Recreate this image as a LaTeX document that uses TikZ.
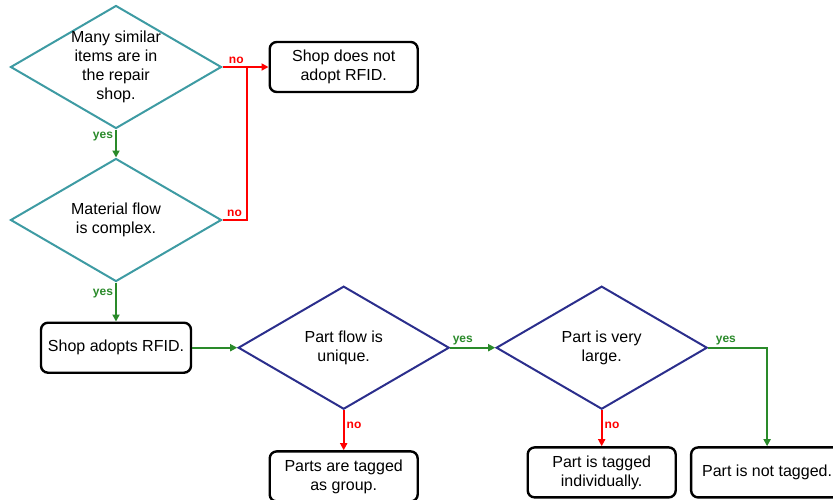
\documentclass[tikz,border=0pt]{standalone}
\usepackage{fontspec}
\setmainfont{Liberation Sans}
\usepackage{tikz}
\usetikzlibrary{arrows.meta,positioning,shapes.geometric}
\usepackage{xcolor}
\definecolor{tealq}{HTML}{3E9BA3}
\definecolor{navyq}{HTML}{2B2E8C}
\definecolor{yesgreen}{HTML}{2A8A2A}

\begin{document}
\begin{tikzpicture}[
    x=1pt, y=1pt,
    box/.style={draw, line width=2.4pt, rounded corners=7pt, minimum width=148pt, minimum height=50pt, align=center, font=\fontsize{16}{19}\selectfont},
    decision/.style={diamond, draw, line width=2pt, minimum width=211pt, minimum height=123pt, inner sep=0pt},
    txt/.style={align=center, font=\fontsize{16}{19}\selectfont},
    lbl/.style={font=\fontsize{12}{14}\selectfont\bfseries, inner sep=2pt},
    yesarrow/.style={-{Triangle[length=7pt,width=7pt]}, line width=2pt, yesgreen},
    noarrow/.style={-{Triangle[length=7pt,width=7pt]}, line width=2pt, red}
]
\useasboundingbox (0,0) rectangle (833,-499);

\node[decision, tealq, label={[txt]center:Many similar\\items are in\\the repair\\shop.}] (d1) at (116,-67) {};
\node[box, right=46pt of d1] (noadopt) {Shop does not\\adopt RFID.};
\node[decision, tealq, below=28pt of d1, label={[txt]center:Material flow\\is complex.}] (d2) {};
\node[box, minimum width=150pt, below=39pt of d2] (adopt) {Shop adopts RFID.};
\node[decision, navyq, right=45pt of adopt, label={[txt]center:Part flow is\\unique.}] (d3) {};
\node[decision, navyq, right=45pt of d3, label={[txt]center:Part is very\\large.}] (d4) {};
\node[box, below=40pt of d3] (group) {Parts are tagged\\as group.};
\node[box, below=36pt of d4] (indiv) {Part is tagged\\individually.};
\node[box, minimum width=152pt, right=13pt of indiv] (nottag) {Part is not tagged.};
\coordinate[right=24pt of d1.east] (nomerge);

\draw[noarrow] (d1.east) -- node[lbl, red, above, pos=0.3] {no} (noadopt);
\draw[line width=2pt, red] (d2.east) -| node[lbl, red, above, pos=0.25] {no} (nomerge);
\draw[yesarrow] (d1) -- node[lbl, yesgreen, left, pos=0.25] {yes} (d2);
\draw[yesarrow] (d2) -- node[lbl, yesgreen, left, pos=0.27] {yes} (adopt);
\draw[yesarrow] (adopt) -- (d3);
\draw[yesarrow] (d3) -- node[lbl, yesgreen, above, pos=0.28] {yes} (d4);
\draw[yesarrow] (d4.east) -| node[lbl, yesgreen, above, pos=0.15] {yes} (nottag.north);
\draw[noarrow] (d3) -- node[lbl, red, right, pos=0.38] {no} (group);
\draw[noarrow] (d4) -- node[lbl, red, right, pos=0.42] {no} (indiv);
\end{tikzpicture}
\end{document}
